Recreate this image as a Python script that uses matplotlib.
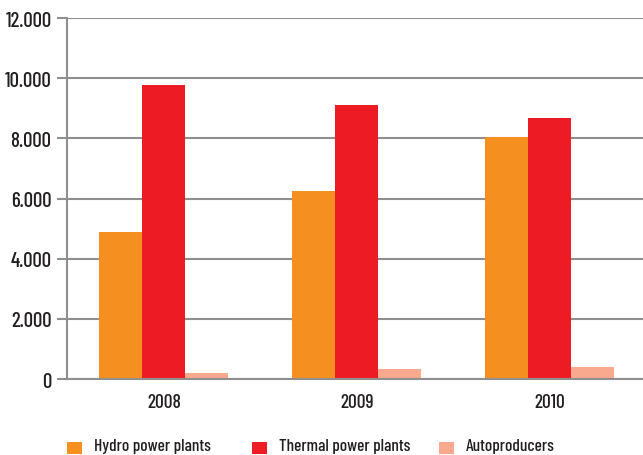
import matplotlib
matplotlib.use("Agg")
import matplotlib.pyplot as plt
import numpy as np
from matplotlib.patches import Patch, Rectangle
from matplotlib.legend_handler import HandlerPatch

plt.rcParams['font.family'] = ['Barlow Condensed', 'DejaVu Sans']

years = ["2008", "2009", "2010"]
series_names = ["Hydro power plants", "Thermal power plants", "Autoproducers"]
hydro = [4870, 6240, 8030]
thermal = [9770, 9110, 8690]
autoproducers = [200, 320, 400]
yticks = [0, 2000, 4000, 6000, 8000, 10000, 12000]
ytick_labels = ["0", "2.000", "4.000", "6.000", "8.000", "10.000", "12.000"]

colors = ["#F58F1F", "#ED1C24", "#F9A98E"]
grid_c = "#8f8f8f"
text_c = "#231f20"

W, H = 643, 456
fig = plt.figure(figsize=(W / 100, H / 100), dpi=100)
ax = fig.add_axes([67 / W, 1 - 380 / H, 576 / W, (380 - 19) / H])

x = np.arange(len(years))
bw = 0.2228
for i, (vals, c, name) in enumerate(zip([hydro, thermal, autoproducers], colors, series_names)):
    ax.bar(x + (i - 1) * bw, vals, width=bw, color=c, label=name, zorder=3, linewidth=0)

ax.set_xlim(-0.5026, 2.482)
ax.set_ylim(0, 12000)
ax.set_yticks(yticks)
ax.set_yticklabels(ytick_labels, fontsize=15, color=text_c, fontweight='medium')
ax.set_xticks(x)
ax.set_xticklabels(years, fontsize=14, color=text_c, fontweight='medium')
ax.tick_params(axis='x', length=0, pad=10)
ax.tick_params(axis='y', length=7.2, width=1.5, color=grid_c, pad=4)
ax.yaxis.grid(True, color=grid_c, linewidth=1.5, zorder=0)
ax.set_axisbelow(True)
for s in ["top", "right"]:
    ax.spines[s].set_visible(False)
for s in ["left", "bottom"]:
    ax.spines[s].set_color(grid_c)
    ax.spines[s].set_linewidth(1.5)
ax.spines["bottom"].set_zorder(4)


def lowered_square(legend, orig_handle, xdescent, ydescent, width, height, fontsize):
    return Rectangle((-xdescent, -ydescent - 2.9), width, height)


legend_x = [67, 252, 439]
for name, c, lx in zip(series_names, colors, legend_x):
    leg = fig.legend([Patch(facecolor=c, edgecolor='none')], [name], loc='lower left',
                     bbox_to_anchor=(lx / W, 2 / H), frameon=False, borderpad=0,
                     borderaxespad=0, prop={'size': 12.5, 'weight': 'medium'},
                     handlelength=0.86, handleheight=0.63, handletextpad=0.69,
                     labelcolor=text_c,
                     handler_map={Patch: HandlerPatch(patch_func=lowered_square)})

fig.savefig("out.png", dpi=100)
